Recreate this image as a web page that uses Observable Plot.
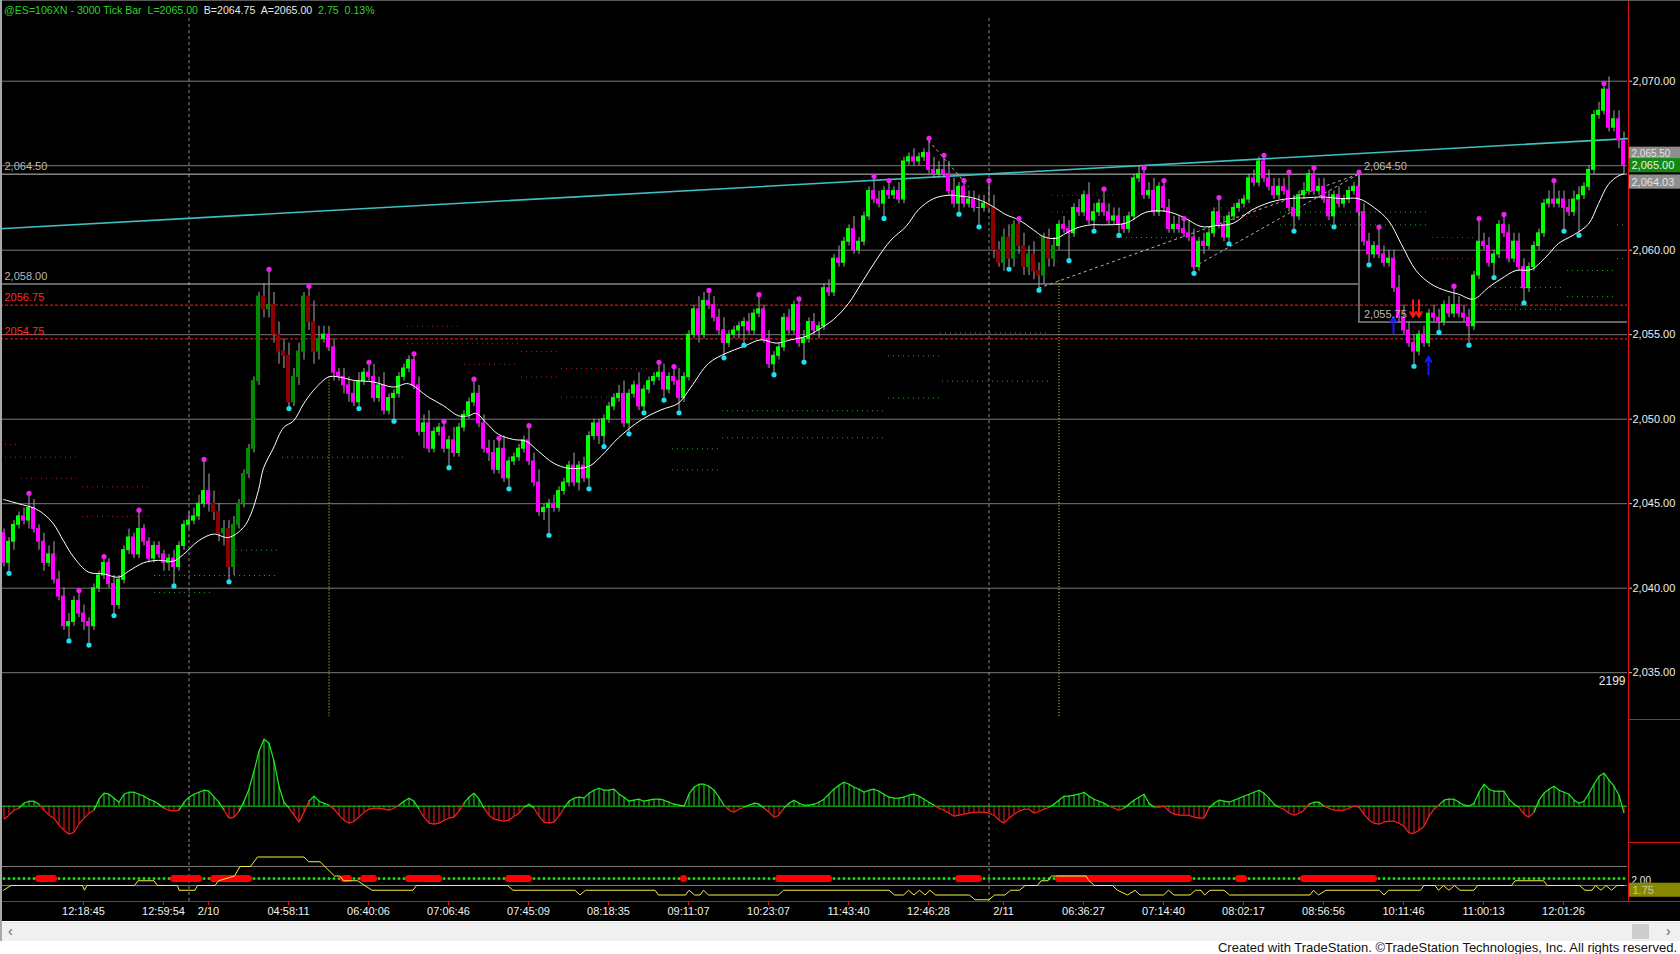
<!DOCTYPE html>
<html><head><meta charset="utf-8">
<script src="https://cdn.jsdelivr.net/npm/d3@7"></script>
<script src="https://cdn.jsdelivr.net/npm/@observablehq/plot@0.6"></script>
<style>
html,body{margin:0;padding:0;background:#fff;overflow:hidden;}
#wrap{position:relative;width:1680px;height:954px;background:#fff;overflow:hidden;font-family:"Liberation Sans",Arial,sans-serif;}
#black{position:absolute;left:0;top:0;width:1680px;height:921px;background:#000;}
.panel{position:absolute;left:0;}
.panel svg{display:block;}
.deco{position:absolute;}
#title{position:absolute;left:4px;top:4px;font-size:10.6px;white-space:pre;line-height:13px;}
#footer{position:absolute;right:3px;top:940px;font-family:"Liberation Sans Narrow","Liberation Sans",Arial,sans-serif;font-stretch:condensed;font-size:13px;color:#111;white-space:pre;}
</style></head>
<body><div id="wrap">
<div id="black"></div>
<div id="main" class="panel" style="top:0px"></div>
<div id="hist" class="panel" style="top:719px"></div>
<div id="bot" class="panel" style="top:842px"></div>
<div id="title"><span style="color:#2bd62b">@ES=106XN - 3000 Tick Bar  L=2065.00  </span><span style="color:#e6e6e6">B=2064.75  A=2065.00  </span><span style="color:#2bd62b">2.75  0.13%</span></div>
<div class="deco" style="left:1628px;top:0;width:1px;height:902px;background:#e01010"></div>
<div class="deco" style="left:0;top:901px;width:1680px;height:1px;background:#e01010"></div>
<div class="deco" style="left:1628px;top:719px;width:52px;height:1px;background:#e01010"></div>
<div class="deco" style="left:1628px;top:842px;width:52px;height:1px;background:#e01010"></div>
<div class="deco" style="left:0;top:0;width:1680px;height:1px;background:#5a5a5a"></div>
<div class="deco" style="left:2px;top:922px;width:1678px;height:18px;background:#f0f0f0;border-top:1px solid #e4e4e4"></div>
<div class="deco" style="left:8px;top:922px;font-size:14px;color:#606060;line-height:18px">&lsaquo;</div>
<div class="deco" style="left:1666px;top:922px;font-size:14px;color:#606060;line-height:18px">&rsaquo;</div>
<div class="deco" style="left:1632px;top:924px;width:17px;height:15px;background:#cdcdcd"></div>
<div class="deco" style="left:0;top:0;width:2px;height:941px;background:#a8a8a8"></div>
<div id="footer">Created with TradeStation. ©TradeStation Technologies, Inc. All rights reserved.</div>
</div>
<script>
// ---------------- DATA ----------------
const firstOpen = 2043.25;
const closes = [
2041.5,2042.75,2043.75,2044.25,2044.0,2044.75,2043.5,2042.75,2041.5,2042.0,
2040.5,2039.5,2037.75,2038.0,2039.25,2038.5,2038.0,2037.75,2040.0,2040.75,
2041.5,2040.25,2039.0,2040.5,2042.25,2043.0,2042.0,2043.5,2042.75,2041.75,
2042.5,2042.0,2041.5,2041.75,2041.25,2042.5,2043.75,2044.0,2044.25,2045.0,
2045.75,2045.0,2044.5,2043.25,2043.5,2041.25,2043.75,2045.0,2046.75,2048.25,
2052.25,2057.25,2056.5,2056.75,2055.0,2054.0,2053.75,2051.0,2052.5,2054.0,
2057.25,2055.75,2054.0,2054.75,2055.0,2054.25,2052.75,2052.5,2052.0,2051.5,
2051.0,2052.25,2052.75,2052.5,2051.25,2052.0,2050.5,2051.25,2051.5,2052.5,
2053.0,2053.5,2052.0,2049.25,2049.75,2048.25,2049.25,2049.5,2048.25,2048.75,
2048.0,2049.5,2050.25,2051.0,2051.5,2049.75,2048.25,2048.0,2047.0,2048.25,
2046.5,2047.5,2047.75,2048.25,2048.75,2047.5,2046.25,2044.5,2044.75,2045.0,
2044.75,2045.75,2046.25,2047.25,2046.25,2047.25,2046.5,2049.0,2049.75,2049.0,
2050.0,2050.75,2051.25,2051.5,2049.75,2051.5,2052.0,2050.75,2051.75,2052.25,
2052.5,2052.75,2051.75,2052.5,2052.25,2051.25,2052.5,2055.0,2056.5,2055.0,
2057.0,2056.75,2056.0,2055.25,2054.5,2055.0,2055.25,2055.5,2055.75,2055.25,
2056.25,2056.5,2054.75,2053.25,2053.75,2054.25,2056.0,2055.25,2056.75,2054.5,
2054.75,2055.75,2055.25,2055.5,2057.75,2057.5,2059.5,2059.25,2060.5,2061.25,
2060.0,2060.5,2062.0,2063.5,2063.0,2062.75,2063.5,2063.25,2063.5,2063.0,
2065.25,2065.5,2065.25,2065.5,2065.75,2064.75,2064.5,2064.75,2064.5,2063.5,
2062.75,2063.75,2062.75,2063.0,2062.5,2062.5,2062.75,2062.5,2060.0,2059.25,
2060.75,2059.5,2061.5,2060.25,2059.0,2059.75,2058.75,2058.5,2060.75,2059.5,
2060.25,2061.5,2061.25,2061.0,2062.5,2062.25,2063.25,2061.75,2062.25,2062.75,
2062.25,2061.75,2062.0,2061.5,2061.25,2062.0,2064.25,2064.5,2063.25,2063.5,
2062.25,2063.75,2062.5,2061.25,2061.5,2061.25,2061.0,2060.75,2059.0,2060.5,
2060.25,2061.0,2062.25,2061.5,2060.75,2062.0,2062.5,2062.75,2063.0,2064.25,
2064.0,2065.25,2064.25,2063.75,2063.25,2063.75,2063.5,2062.5,2062.0,2063.25,
2063.5,2064.5,2063.5,2063.75,2063.0,2062.0,2063.25,2062.75,2063.0,2063.5,
2063.75,2062.25,2060.5,2059.75,2060.25,2059.75,2059.25,2059.5,2057.75,2056.0,
2055.25,2054.5,2054.0,2055.0,2054.5,2056.25,2056.0,2055.75,2056.75,2056.25,
2056.75,2056.25,2056.0,2055.5,2058.5,2060.5,2060.25,2059.25,2059.75,2061.5,
2061.0,2059.5,2060.5,2059.0,2057.75,2059.0,2060.25,2061.0,2062.75,2063.0,
2062.75,2063.0,2062.5,2062.25,2063.0,2063.25,2063.75,2064.75,2068.0,2068.25,
2069.5,2067.25,2067.75,2066.5,2065.0];
// wick lengths above / below the body, in ticks of 0.25
const upWickTicks = ("1111232122"+"3222122111"+"1121121411"+"1111211222"+"7432222111"+"1138333322"+"1253222122"+"3212323111"+
 "1112231111"+"3111322232"+"3111132311"+"2111312111"+"1112311311"+"1221231113"+"2222311112"+"1312111211"+"2121121311"+
 "3111321212"+"1121133233"+"3112232532"+"2311323212"+"2122121321"+"3222211212"+"3112222321"+"2113211111"+"2112222431"+
 "2112221211"+"1322142223"+"3221212212"+"4222152211"+"2222211112"+"4222221112"+"13222").split("").map(Number);
const downWickTicks = ("1221121221"+"1113112411"+"1121111111"+"1122411111"+"1222332111"+"1122233112"+"2232112122"+"1111111151"+
 "1111411114"+"1111111211"+"1211111126"+"1111121212"+"2111121111"+"1121131112"+"1111311241"+"1111211111"+"4112111111"+
 "1111113111"+"1111111111"+"1211141121"+"2222222322"+"2116111121"+"1112111111"+"1111111111"+"2111111111"+"1111111131"+
 "1111112111"+"1112111111"+"1131111211"+"1114111131"+"1111311111"+"1151181111"+"11122").split("").map(Number);
const darkRanges = [[42, 63], [197, 210]];
const swingHighBars = [5,15,20,27,40,53,61,73,82,88,94,99,105,131,134,141,151,159,174,177,185,188,192,197,203,220,228,232,236,243,252,257,262,271,275,290,295,300,310,320];
const swingLowBars = [1,13,17,22,34,45,57,71,78,89,101,109,117,120,125,128,132,135,144,148,154,160,176,191,195,201,207,213,218,223,238,245,258,266,273,282,287,293,298,304,312,315];
const avgLine = [[0,2045.25],[3,2045.0],[6,2044.75],[8,2044.4],[10,2043.8],[12,2042.8],[14,2041.85],[17,2040.95],[20,2040.85],[23,2040.65],
 [25,2041.0],[28,2041.5],[31,2041.65],[34,2041.6],[36,2042.0],[39,2042.8],[42,2043.2],[45,2043.0],[48,2043.6],[49.5,2044.4],
 [51,2045.8],[52,2047.1],[54,2048.3],[56,2049.5],[58,2049.9],[60,2050.9],[62,2051.7],[65,2052.5],[67,2052.5],[70,2052.3],
 [74,2052.2],[78,2051.9],[81,2052.1],[85,2051.3],[88,2050.8],[91,2050.2],[93,2050.2],[94.5,2050.35],[96.5,2049.8],[99,2049.1],
 [102,2048.8],[104.5,2048.7],[107,2048.1],[110,2047.4],[113,2047.1],[117,2047.2],[119.5,2047.8],[123,2048.9],[127.5,2049.95],[131.5,2050.55],
 [135,2050.95],[137.5,2051.9],[141,2053.3],[144.5,2053.9],[148,2054.3],[151.5,2054.7],[154.5,2054.5],[157.5,2054.7],[160.5,2054.9],[163,2055.3],
 [166,2055.9],[169,2056.85],[171.5,2058.0],[174.5,2059.4],[177.5,2060.6],[180.5,2061.4],[183,2062.4],[186,2063.05],[189,2063.25],[191.5,2063.2],
 [194.5,2063.05],[197.5,2062.65],[200.5,2062.1],[203,2061.8],[206,2061.2],[208,2060.8],[210.5,2060.7],[212.5,2061.0],[214.5,2061.3],[217.5,2061.5],
 [220,2061.5],[224.5,2061.6],[228.5,2062.25],[232.5,2062.3],[236,2061.95],[239.5,2061.4],[242.5,2061.45],[246,2061.6],[249.5,2062.35],[253.5,2062.85],
 [257,2063.05],[260.5,2063.1],[264,2063.15],[267.5,2063.05],[271,2063.05],[274,2062.55],[277,2061.75],[279.5,2060.4],[282.5,2058.8],[285.5,2058.0],
 [288.5,2057.6],[291,2057.4],[294,2057.1],[297,2057.8],[299.5,2058.3],[302.5,2058.8],[305.5,2058.85],[308.5,2059.6],[311,2060.4],[314,2060.9],
 [317,2061.55],[319,2062.75],[321,2063.9],[323,2064.4],[324,2064.5]];
const trendLine = [[-0.6, 2061.27], [324.8, 2066.6]];
const priceTicks = [2035, 2040, 2045, 2050, 2055, 2060, 2065, 2070];
const levels = [ // [price, fromBar, toBar]
 [2064.5, -0.6, 324.8], [2058.0, -0.6, 271], [2055.75, 271, 324.8]];
const levelBox = [[271, 2055.75, 2064.5]];
const redLevels = [2056.75, 2054.75];
const levelLabels = [ // [text, bar, price, kind]
 ["2,064.50", -0.6, 2064.5, "grey"], ["2,058.00", -0.6, 2058.0, "grey"],
 ["2056.75", -0.6, 2056.75, "red"], ["2054.75", -0.6, 2054.75, "red"],
 ["2,064.50", 271.3, 2064.5, "grey"], ["2,055.75", 271.3, 2055.75, "grey"]];
const redPivots = [[-0.6,3,2048.5],[-0.6,15.2,2047.75],[3.6,15.2,2046.5],[15.8,29.4,2046.0],[15.8,29.4,2044.25],
 [80.8,91.6,2055.5],[80.8,103,2054.5],[103.6,111,2054.0],[111.6,128.8,2053.0],[92.2,103,2053.25],[103.6,111,2052.5],[111.6,128.8,2051.3],
 [209.8,222.6,2063.25],[209.8,219.4,2062.25],[242.6,251.2,2062.5],[242.6,251.2,2062.0],[285.8,294,2060.75],[285.8,294,2059.5]];
const greenPivots = [[55.8,80.2,2047.75],[55.8,80.2,2045.0],[46.6,55.2,2042.25],[30.2,55.2,2040.75],[30.2,42.2,2039.75],
 [187.4,208.8,2055.1],[177,187.8,2053.75],[187.8,209.2,2052.25],[177,187.8,2051.25],[143.8,176.6,2050.5],[143.8,176,2048.9],
 [133.8,143.2,2048.25],[133.8,143.2,2047.0],[255.4,285.4,2062.25],[255.4,285.4,2061.5],[222.6,236.8,2060.75],
 [297.4,312,2057.8],[297.4,312,2056.5],[312.8,322.6,2058.8],[312.8,322.6,2057.25],[322.8,324.4,2061.5],[322.8,324.4,2059.5]];
const dashedTrends = [[207,2057.75,271,2064.5],[238,2059.0,271,2064.5],[185,2066.5,193,2063.75]];
const signalVerticals = [[65, 2052.5], [211, 2058.2]];
const sessionBreaks = [37, 197];
const upArrows = [[278, 2055.1, 2056.05], [285, 2052.65, 2053.7]];
const downArrows = [[281.9, 2057.05, 2056.05], [283.1, 2057.05, 2056.05]];
const lastLabels = [[2065.50, "trend"], [2065.00, "last"], [2064.03, "avg"]];
const barCount = [["2199", 2034.48]];
// oscillator histogram (height units), one value per bar
const histValues = [
-13,-9,-4,-2,3,5,5,2,-4,-9, -12,-19,-24,-28,-26,-18,-12,-7,-4,7, 13,12,8,4,12,14,14,12,10,7, 5,2,-2,-4,-5,-4,4,9,12,14,
16,15,9,4,-4,-12,-11,-5,5,17, 35,55,67,63,45,20,4,-2,-9,-16, -6,5,10,5,3,1,-3,-9,-14,-17, -15,-11,-6,-3,-2,-2,-3,-4,-2,1,
5,8,5,-3,-11,-17,-18,-17,-14,-12, -11,-5,3,9,13,7,-2,-9,-13,-14, -15,-14,-10,-7,-1,2,-2,-10,-16,-17, -16,-10,-2,5,8,9,8,13,16,18,
16,16,17,12,9,5,6,7,5,6, 7,7,6,4,2,1,0,12,19,22, 22,20,16,9,1,-4,-6,-3,-1,1, 3,2,-2,-6,-11,-9,-2,3,6,3,
1,1,2,4,7,12,17,21,24,22, 19,17,14,16,17,15,12,9,8,8, 9,11,12,10,7,4,1,-2,-4,-7, -10,-9,-8,-7,-6,-6,-6,-7,-9,-14,
-17,-12,-8,-5,-3,-3,-7,-5,-3,-1, 2,6,10,10,11,12,14,10,7,5, 3,0,-2,-4,-2,2,6,9,12,3, -1,-1,0,-5,-8,-9,-9,-9,-11,-12,
-12,-2,3,6,5,4,6,8,10,12, 14,16,13,8,2,-1,-3,-7,-9,-7, -4,2,4,4,0,-2,-4,-4,-4,-2, 0,-1,-8,-14,-17,-18,-16,-15,-15,-17,
-20,-27,-27,-24,-20,-10,-3,1,6,7, 7,4,1,0,3,14,22,17,15,15, 15,7,2,-1,-8,-11,-6,6,13,17, 20,16,14,12,6,3,5,13,22,30,
33,26,20,11,-7];
// lower panel: red condition runs (bar ranges) and the yellow step line vertices [bar, value]
const redRuns = [[7,10],[34,39],[42,49],[68,69],[72,74],[81,87],[101,105],[136,136],[155,165],[191,195],[211,237],[247,248],[260,274]];
const yellowLine = [[0,1.75],[1.5,2],[15.8,2],[16.2,1.75],[16.7,2],[26.2,2],[26.9,2.25],[30.1,2.25],[30.8,2],[34.8,2],[35.1,1.75],[38.3,1.75],
 [38.8,2],[42.3,2],[43,2.25],[46.2,2.5],[47.3,3],[49.4,3],[50.8,3.5],[60.1,3.5],[61,3.25],[63.3,3.25],[66.2,2.5],[67.3,2.5],[68,2.25],
 [70.8,2.25],[73.7,1.75],[81.9,1.75],[82.6,2],[100.8,2],[101.9,1.75],[114.3,1.75],[115.3,1.5],[116.4,1.75],[130.3,1.75],[131,1.5],
 [136.4,1.5],[137.1,1.75],[138.2,1.5],[139.3,1.5],[140,1.75],[141,1.5],[155,1.5],[156,1.75],[177.1,1.75],[178.2,1.5],[180,1.5],
 [181,1.75],[182.1,1.5],[183.2,1.75],[184.3,1.5],[185.3,1.75],[186.4,1.5],[193.2,1.5],[194.3,1.25],[197.1,1.25],[198.2,1.5],[200.3,1.5],
 [201.4,1.75],[203.2,1.75],[204.3,2],[206.8,2],[207.5,2.25],[208.9,2.25],[209.6,2.5],[216.5,2.5],[217.1,2.25],[218.2,2],[221.8,2],
 [222.8,1.75],[224.8,1.5],[226.3,1.75],[227.3,1.5],[232,1.5],[233,1.75],[234.1,1.5],[237.3,1.5],[238.4,1.75],[239.5,1.75],[240.2,1.5],
 [241.3,1.75],[244.1,1.75],[245.2,1.5],[261.3,1.5],[262,1.75],[263,1.5],[264.5,1.75],[275.2,1.75],[276.1,1.5],[277,1.75],[283.4,1.75],
 [284.1,2],[286.3,2],[287,1.75],[288,2],[289.1,1.75],[290.2,2],[291.3,1.75],[294.1,1.75],[294.8,2],[301.6,2],[302.3,2.25],[308,2.25],
 [308.8,2],[315.2,2],[316.3,1.75],[317.7,1.75],[318.4,2],[319.5,1.75],[320.5,2],[321.6,1.75],[322.7,2],[324.1,2]];
const lowerLevels = [2, 3];
const lowerLabels = [[2.00, "plain"], [1.75, "box"]];
const timeTickBars = [16,32,41,57,73,89,105,121,137,153,169,185,200,216,232,248,264,280,296,312];
const timeTickLabels = ["12:18:45","12:59:54","2/10","04:58:11","06:40:06","07:06:46","07:45:09","08:18:35","09:11:07","10:23:07",
 "11:43:40","12:46:28","2/11","06:36:27","07:14:40","08:02:17","08:56:56","10:11:46","11:00:13","12:01:26"];

// ---------------- BUILD ----------------
const UP = "#00ff00", DOWN = "#ff00ff", DUP = "#008c00", DDOWN = "#8c0000";
const bars = closes.map((c, i) => {
  const o = i === 0 ? firstOpen : closes[i - 1];
  const dark = darkRanges.some(([a, b]) => i >= a && i <= b);
  const up = c >= o;
  return {i, o, c,
    hi: Math.max(o, c) + upWickTicks[i] * 0.25,
    lo: Math.min(o, c) - downWickTicks[i] * 0.25,
    color: dark ? (up ? DUP : DDOWN) : (up ? UP : DOWN)};
});
const W = 1680, MR = 53;
const xDomain = [-0.6, 324.8];
const font = "Liberation Sans, Arial, sans-serif";
const fmt = d3.format(",.2f");
const baseStyle = {background: "transparent", color: "#e8e8e8", fontFamily: font, fontSize: "11px"};
const greyTxt = "#b8b8b8", redTxt = "#ff2a2a";
// small vertical nudges (px) so the stacked price-scale badges stay legible
const badgeShift = {trend: -3, last: 0, avg: 0};
const badgeFill = {trend: "#8e8e8e", last: "#128a12", avg: "#8e8e8e"};
const badgeText = {trend: "#e2e2e2", last: "#e8f0e8", avg: "#e2e2e2"};

const main = Plot.plot({
  width: W, height: 719, marginLeft: 0, marginRight: MR, marginTop: 0, marginBottom: 0,
  style: baseStyle,
  x: {domain: xDomain, axis: null},
  y: {domain: [2032.23, 2074.775], axis: null},
  color: {type: "identity"},
  marks: [
    Plot.ruleY(priceTicks, {x1: xDomain[0], x2: xDomain[1], stroke: "#7a7a7a"}),
    Plot.ruleX(sessionBreaks, {y1: 2073.7, y2: 2032.23, stroke: "#8e8e8e", strokeDasharray: "3,3", dx: 0.5}),
    Plot.ruleY(levels, {y: d => d[0], x1: d => d[1], x2: d => d[2], stroke: "#c8c8c8"}),
    Plot.ruleX(levelBox, {x: d => d[0], y1: d => d[1], y2: d => d[2], stroke: "#c8c8c8", dx: 0.5}),
    Plot.ruleY(redLevels, {x1: xDomain[0], x2: xDomain[1], stroke: "#ff2020", strokeDasharray: "3,2"}),
    Plot.ruleY(redPivots, {y: d => d[2], x1: d => d[0], x2: d => d[1], stroke: "#b02020", strokeDasharray: "1,4"}),
    Plot.ruleY(greenPivots, {y: d => d[2], x1: d => d[0], x2: d => d[1], stroke: "#20a820", strokeDasharray: "1,4"}),
    Plot.ruleX(signalVerticals, {x: d => d[0], y1: d => d[1], y2: 2032.4, stroke: "#e8e830", strokeDasharray: "1,2", dx: 0.5}),
    Plot.link(dashedTrends, {x1: d => d[0], y1: d => d[1], x2: d => d[2], y2: d => d[3], stroke: "#b0b0b0", strokeDasharray: "3,3"}),
    Plot.line(trendLine, {x: d => d[0], y: d => d[1], stroke: "#3cc0c4", strokeWidth: 1.6}),
    Plot.ruleX(bars, {x: "i", y1: "lo", y2: "hi", stroke: "#a8a8a8", dx: 0.5}),
    Plot.rect(bars, {x1: d => d.i - 0.4, x2: d => d.i + 0.4, y1: d => Math.min(d.o, d.c), y2: d => Math.max(d.o, d.c),
      fill: "color", insetTop: -0.5, insetBottom: -0.5}),
    Plot.line(avgLine, {x: d => d[0], y: d => d[1], stroke: "#ffffff", strokeWidth: 1, curve: "catmull-rom"}),
    Plot.dot(swingHighBars.map(i => bars[i]), {x: "i", y: "hi", r: 2.6, fill: "#f020f0", dy: -2, dx: 0.5}),
    Plot.dot(swingLowBars.map(i => bars[i]), {x: "i", y: "lo", r: 2.6, fill: "#20e0f0", dy: 2, dx: 0.5}),
    Plot.arrow(upArrows, {x1: d => d[0], x2: d => d[0], y1: d => d[1], y2: d => d[2], stroke: "#1818ff", strokeWidth: 2, headLength: 6}),
    Plot.arrow(downArrows, {x1: d => d[0], x2: d => d[0], y1: d => d[1], y2: d => d[2], stroke: "#ff1818", strokeWidth: 2, headLength: 6}),
    Plot.text(levelLabels, {x: d => d[1], y: d => d[2], text: d => d[0], fill: d => d[3] === "red" ? redTxt : greyTxt,
      textAnchor: "start", dx: 4, dy: -7.5, fontSize: 11}),
    Plot.text(barCount, {x: xDomain[1], y: d => d[1], text: d => d[0], textAnchor: "end", dx: -2, fill: "#e8e8e8", fontSize: 12}),
    Plot.axisY(priceTicks, {anchor: "right", tickSize: 4, tickPadding: 1, tickFormat: fmt, stroke: "#d0d0d0", fill: "#eeeeee", label: null}),
    // price-scale badges (trend value, last price, average), drawn in order so the last price sits on top
    ...lastLabels.flatMap(d => [
      Plot.rect([d], {x1: 325.1, x2: 336, y1: r => r[0] - 0.42, y2: r => r[0] + 0.42, dy: badgeShift[d[1]], fill: badgeFill[d[1]]}),
      Plot.text([d], {x: 325.2, y: r => r[0], text: r => fmt(r[0]), textAnchor: "start", dx: 2, dy: badgeShift[d[1]],
        fill: badgeText[d[1]], fontSize: d[1] === "trend" ? 10 : 11})
    ])
  ]
});
document.getElementById("main").appendChild(main);

const histRows = histValues.map((v, i) => ({i, v}));
const histSegs = histValues.slice(0, -1).map((v, i) => ({x1: i, y1: v, x2: i + 1, y2: histValues[i + 1],
  stroke: (v + histValues[i + 1]) >= 0 ? "#20f020" : "#ff2020"}));
const hist = Plot.plot({
  width: W, height: 123, marginLeft: 0, marginRight: MR, marginTop: 0, marginBottom: 0,
  style: baseStyle,
  x: {domain: xDomain, axis: null},
  y: {domain: [-36.3, 86.7], axis: null},
  color: {type: "identity"},
  marks: [
    Plot.ruleX(sessionBreaks, {stroke: "#8e8e8e", strokeDasharray: "3,3", dx: 0.5}),
    Plot.ruleX(histRows, {x: "i", y1: 0, y2: "v", stroke: d => d.v >= 0 ? "#20e020" : "#f02020", dx: 0.5}),
    Plot.ruleY([0], {x1: xDomain[0], x2: xDomain[1], stroke: "#20d020"}),
    Plot.link(histSegs, {x1: "x1", y1: "y1", x2: "x2", y2: "y2", stroke: "stroke", strokeWidth: 1.2, dx: 0.5})
  ]
});
document.getElementById("hist").appendChild(hist);

const labelByBar = new Map(timeTickBars.map((b, k) => [b, timeTickLabels[k]]));
const bot = Plot.plot({
  width: W, height: 78, marginLeft: 0, marginRight: MR, marginTop: 0, marginBottom: 19,
  style: baseStyle,
  x: {domain: xDomain, axis: null},
  y: {domain: [1.158, 4.263], axis: null},
  color: {type: "identity"},
  marks: [
    Plot.ruleX(sessionBreaks, {y1: 1.158, y2: 4.263, stroke: "#8e8e8e", strokeDasharray: "3,3", dx: 0.5}),
    Plot.ruleY(lowerLevels, {x1: xDomain[0], x2: xDomain[1], stroke: "#7a7a7a"}),
    Plot.dot(bars, {x: "i", y: 2.368, r: 1.5, fill: "#10e010", dx: 0.5}),
    Plot.link(redRuns, {x1: d => d[0], x2: d => d[1], y1: 2.368, y2: 2.368, stroke: "#ff0000", strokeWidth: 7, strokeLinecap: "round"}),
    Plot.line(yellowLine, {x: d => d[0], y: d => d[1], stroke: "#f4f040", strokeWidth: 1}),
    Plot.text(lowerLabels.filter(d => d[1] === "plain"), {x: 325.2, y: d => d[0], text: d => d[0].toFixed(2), textAnchor: "start", dx: 2, dy: -5, fill: "#e8e8e8", fontSize: 10}),
    Plot.rect(lowerLabels.filter(d => d[1] === "box"), {x1: 325.1, x2: 336, y1: d => d[0] - 0.37, y2: d => d[0] + 0.37, fill: "#878700"}),
    Plot.text(lowerLabels.filter(d => d[1] === "box"), {x: 325.2, y: d => d[0], text: d => d[0].toFixed(2), textAnchor: "start", dx: 3, fill: "#c8c8a8", fontSize: 11}),
    Plot.axisX(timeTickBars, {anchor: "bottom", tickSize: 4, tickPadding: 2, tickFormat: d => labelByBar.get(d),
      stroke: "#e01010", fill: "#f0f0f0", label: null})
  ]
});
document.getElementById("bot").appendChild(bot);
</script>
</body></html>
